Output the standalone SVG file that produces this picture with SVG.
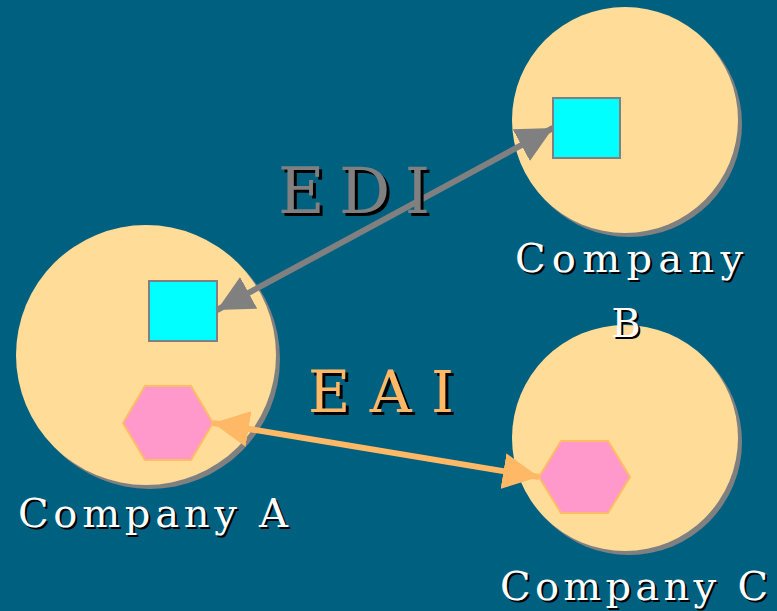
<svg xmlns="http://www.w3.org/2000/svg" width="777" height="611" viewBox="0 0 777 611">
<style>
.shadow{fill:#808080}
.co{fill:#FFDD99}
.sq{fill:#00FFFF;stroke:#808080;stroke-width:2}
.hex{fill:#FF99CC;stroke:#FFBB66;stroke-width:2}
.lbl{font-family:"DejaVu Serif",serif;font-size:40px;fill:#fff}
.lblsh{font-family:"DejaVu Serif",serif;font-size:40px;fill:#000}
.big{font-family:"DejaVu Serif",serif}
</style>
<defs>
<marker id="ag" viewBox="0 0 10 10" refX="10" refY="5" markerWidth="6" markerHeight="6" markerUnits="strokeWidth" orient="auto-start-reverse"><path d="M0,0 L10,5 L0,10 z" fill="#808080"/></marker>
<marker id="ao" viewBox="0 0 10 10" refX="10" refY="5" markerWidth="6" markerHeight="6" markerUnits="strokeWidth" orient="auto-start-reverse"><path d="M0,0 L10,5 L0,10 z" fill="#FFB866"/></marker>
</defs>
<rect width="777" height="611" fill="#006080"/>
<g id="companyC">
<circle class="shadow" cx="629" cy="442" r="113"/>
<circle class="co" cx="625" cy="438" r="113"/>
<polygon class="hex" points="539,477 561,441 608,441 630,477 608,513 561,513"/>
<text class="lblsh" x="502" y="602" textLength="268" lengthAdjust="spacing">Company C</text>
<text class="lbl" x="500" y="600" textLength="268" lengthAdjust="spacing">Company C</text>
</g>
<g id="companyA">
<circle class="shadow" cx="150" cy="359" r="130"/>
<circle class="co" cx="146" cy="355" r="130"/>
<rect class="sq" x="149" y="281" width="68" height="60"/>
<polygon class="hex" points="123,423 145,386 191,386 213,423 191,460 145,460"/>
<text class="lblsh" x="20" y="529" textLength="270" lengthAdjust="spacing">Company A</text>
<text class="lbl" x="18" y="527" textLength="270" lengthAdjust="spacing">Company A</text>
</g>
<g id="companyB">
<circle class="shadow" cx="629" cy="124" r="113"/>
<circle class="co" cx="625" cy="120" r="113"/>
<rect class="sq" x="553" y="98" width="67" height="60"/>
<text class="lblsh" x="517" y="274" textLength="228" lengthAdjust="spacing">Company</text>
<text class="lbl" x="515" y="272" textLength="228" lengthAdjust="spacing">Company</text>
<text class="lblsh" x="628" y="339" text-anchor="middle">B</text>
<text class="lbl" x="626" y="337" text-anchor="middle">B</text>
</g>
<g id="connectors">
<line x1="217" y1="310" x2="553" y2="128" stroke="#808080" stroke-width="6" marker-start="url(#ag)" marker-end="url(#ag)"/>
<line x1="213" y1="423" x2="539" y2="477" stroke="#FFB866" stroke-width="6" marker-start="url(#ao)" marker-end="url(#ao)"/>
</g>
<g id="labels">
<text class="big" font-size="64" x="281" y="216" fill="#000" textLength="152" lengthAdjust="spacing">EDI</text>
<text class="big" font-size="64" x="278" y="213" fill="#808080" textLength="152" lengthAdjust="spacing">EDI</text>
<text class="big" font-size="58" x="311" y="415" fill="#000" textLength="146" lengthAdjust="spacing">EAI</text>
<text class="big" font-size="58" x="308" y="412" fill="#FFB866" textLength="146" lengthAdjust="spacing">EAI</text>
</g>
</svg>
